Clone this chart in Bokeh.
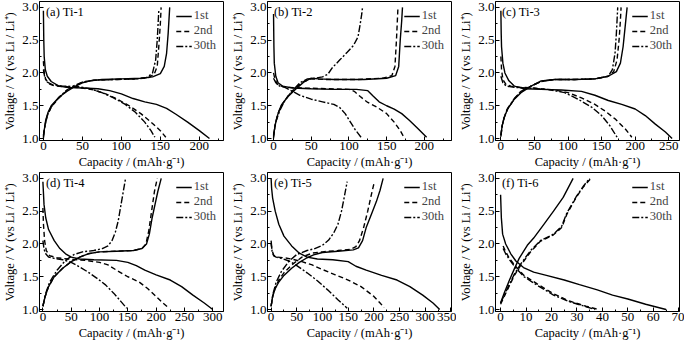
from bokeh.plotting import figure
from bokeh.layouts import gridplot
from bokeh.models import Legend, LegendItem, Label, SingleIntervalTicker, PrintfTickFormatter, Range1d
from bokeh.embed import file_html
from bokeh.resources import INLINE

# ---------------- data: (capacity mAh/g, voltage V) ----------------
# (a) Ti-1
a_1st_dis = [(0,2.95),(0.5,2.5),(1,2.25),(2.5,2.05),(5,1.95),(10,1.87),(20,1.8),(30,1.78),(50,1.77),(70,1.76),(85,1.73),(100,1.68),(115,1.61),(130,1.56),(145,1.52),(158,1.46),(170,1.37),(185,1.25),(200,1.12),(213,1.0)]
a_1st_chg = [(0,1.0),(1,1.12),(3,1.28),(6,1.4),(10,1.5),(20,1.63),(30,1.72),(40,1.79),(50,1.85),(60,1.88),(75,1.9),(100,1.91),(125,1.92),(140,1.94),(150,1.99),(155,2.1),(158,2.3),(160,2.6),(162,3.0)]
a_2nd_dis = [(0,2.18),(1,2.0),(3,1.9),(8,1.83),(15,1.8),(30,1.79),(50,1.77),(65,1.74),(80,1.68),(95,1.6),(110,1.5),(125,1.38),(140,1.23),(150,1.12),(157,1.02)]
a_2nd_chg = [(0,1.05),(2,1.2),(5,1.35),(10,1.48),(20,1.62),(30,1.73),(40,1.8),(50,1.86),(65,1.89),(90,1.9),(120,1.91),(135,1.93),(142,1.98),(146,2.1),(148,2.4),(150,2.75),(151,3.0)]
a_30_dis = [(0,2.05),(2,1.92),(5,1.86),(12,1.82),(25,1.8),(45,1.79),(60,1.76),(75,1.7),(90,1.62),(105,1.52),(118,1.4),(130,1.25),(138,1.12),(143,1.02)]
a_30_chg = [(0,1.03),(2,1.2),(5,1.35),(10,1.48),(20,1.63),(30,1.74),(40,1.81),(50,1.86),(65,1.89),(90,1.9),(120,1.91),(133,1.93),(140,2.0),(144,2.2),(146,2.5),(148,2.95)]
# (b) Ti-2
b_1st_dis = [(0,2.9),(0.5,2.4),(1,2.15),(3,1.95),(6,1.85),(12,1.8),(25,1.77),(50,1.76),(80,1.75),(110,1.75),(125,1.73),(132,1.65),(140,1.56),(150,1.5),(160,1.45),(170,1.38),(180,1.28),(190,1.17),(203,1.02)]
b_1st_chg = [(0,1.0),(1,1.12),(3,1.25),(6,1.38),(10,1.5),(15,1.58),(20,1.65),(30,1.76),(40,1.86),(50,1.92),(60,1.91),(80,1.9),(120,1.9),(150,1.92),(162,1.96),(166,2.1),(168,2.5),(170,2.8),(171,3.0)]
b_2nd_dis = [(0,2.0),(2,1.9),(5,1.83),(10,1.8),(20,1.78),(40,1.77),(70,1.76),(100,1.75),(107,1.72),(115,1.64),(125,1.55),(137,1.48),(150,1.38),(160,1.25),(168,1.12),(173,1.02)]
b_2nd_chg = [(0,1.03),(2,1.2),(5,1.35),(10,1.5),(20,1.66),(30,1.78),(40,1.87),(50,1.91),(70,1.9),(110,1.9),(145,1.92),(157,1.96),(161,2.1),(163,2.5),(165,3.0)]
b_30_dis = [(0,1.92),(3,1.85),(8,1.8),(15,1.78),(25,1.72),(35,1.66),(50,1.6),(65,1.56),(80,1.52),(88,1.47),(95,1.38),(102,1.25),(108,1.14),(116,1.02)]
b_30_chg = [(0,1.05),(3,1.25),(8,1.42),(15,1.58),(25,1.73),(35,1.85),(45,1.91),(55,1.92),(65,1.94),(72,1.98),(78,2.08),(88,2.2),(98,2.32),(106,2.42),(112,2.55),(115,2.75),(117,2.9),(118,3.0)]
# (c) Ti-3
c_1st_dis = [(0,2.95),(0.5,2.6),(1,2.4),(3,2.15),(6,2.0),(12,1.88),(20,1.8),(35,1.76),(60,1.75),(90,1.74),(120,1.72),(140,1.66),(160,1.58),(180,1.52),(200,1.45),(215,1.35),(230,1.22),(245,1.1),(255,1.0)]
c_1st_chg = [(0,1.05),(2,1.2),(5,1.32),(10,1.45),(20,1.6),(30,1.7),(45,1.8),(60,1.88),(80,1.9),(110,1.9),(140,1.91),(160,1.95),(172,2.02),(178,2.15),(182,2.4),(185,2.7),(188,3.0)]
c_2nd_dis = [(0,2.25),(1,2.05),(3,1.9),(8,1.82),(15,1.8),(30,1.78),(50,1.77),(80,1.74),(100,1.7),(120,1.62),(140,1.52),(155,1.42),(170,1.3),(185,1.15),(195,1.02)]
c_2nd_chg = [(0,1.05),(2,1.2),(5,1.32),(10,1.45),(20,1.6),(30,1.72),(45,1.8),(60,1.87),(80,1.9),(110,1.9),(140,1.91),(160,1.95),(168,2.02),(173,2.2),(176,2.5),(178,2.8),(179,3.0)]
c_30_dis = [(0,1.95),(3,1.85),(8,1.8),(20,1.78),(40,1.77),(70,1.75),(95,1.7),(115,1.6),(135,1.48),(150,1.35),(162,1.2),(173,1.02)]
c_30_chg = [(0,1.03),(2,1.2),(5,1.33),(10,1.46),(20,1.61),(30,1.72),(45,1.8),(60,1.87),(80,1.9),(110,1.9),(140,1.91),(160,1.95),(166,2.05),(170,2.3),(172,2.6),(174,3.0)]
# (d) Ti-4
d_1st_dis = [(0,2.95),(2,2.6),(5,2.4),(10,2.22),(20,2.05),(30,1.93),(40,1.85),(50,1.8),(65,1.77),(90,1.76),(130,1.75),(150,1.72),(165,1.67),(180,1.6),(200,1.53),(225,1.45),(245,1.35),(265,1.22),(285,1.1),(300,1.0)]
d_1st_chg = [(0,1.05),(4,1.2),(10,1.35),(20,1.5),(35,1.63),(50,1.73),(65,1.8),(80,1.85),(100,1.88),(130,1.89),(160,1.9),(175,1.93),(183,2.0),(188,2.15),(193,2.4),(198,2.6),(203,2.8),(209,3.0)]
d_2nd_dis = [(0,2.55),(1,2.3),(3,2.05),(6,1.9),(12,1.82),(25,1.79),(45,1.77),(75,1.75),(100,1.72),(115,1.68),(130,1.6),(150,1.5),(170,1.42),(185,1.32),(200,1.2),(212,1.1),(223,1.02)]
d_2nd_chg = [(0,1.05),(4,1.2),(10,1.35),(20,1.5),(35,1.63),(50,1.73),(65,1.8),(80,1.85),(100,1.88),(130,1.89),(160,1.9),(175,1.93),(182,2.0),(187,2.2),(192,2.5),(197,2.8),(202,3.0)]
d_30_dis = [(0,2.05),(2,1.92),(5,1.85),(10,1.8),(20,1.78),(35,1.76),(50,1.72),(65,1.65),(80,1.57),(95,1.48),(110,1.38),(125,1.25),(138,1.12),(148,1.02)]
d_30_chg = [(0,1.05),(5,1.25),(12,1.42),(25,1.6),(40,1.75),(55,1.84),(70,1.88),(90,1.9),(105,1.93),(115,1.97),(122,2.05),(128,2.18),(133,2.35),(138,2.6),(142,2.8),(146,3.0)]
# (e) Ti-5
e_1st_dis = [(0,3.0),(1,2.85),(3,2.7),(8,2.5),(15,2.3),(25,2.12),(40,1.97),(55,1.86),(70,1.8),(90,1.77),(120,1.76),(150,1.73),(165,1.66),(185,1.6),(215,1.52),(245,1.45),(270,1.35),(295,1.22),(315,1.1),(328,1.0)]
e_1st_chg = [(0,1.05),(3,1.2),(8,1.32),(15,1.42),(25,1.52),(40,1.63),(55,1.72),(70,1.79),(85,1.84),(100,1.87),(130,1.89),(160,1.91),(170,1.94),(178,2.05),(185,2.25),(195,2.45),(205,2.65),(212,2.82),(218,3.0)]
e_2nd_dis = [(0,2.0),(2,1.9),(5,1.83),(12,1.8),(25,1.79),(40,1.77),(60,1.73),(80,1.68),(100,1.61),(125,1.53),(150,1.45),(175,1.35),(200,1.2),(212,1.1),(220,1.03)]
e_2nd_chg = [(0,1.05),(3,1.2),(8,1.33),(15,1.45),(25,1.56),(40,1.68),(60,1.8),(80,1.86),(100,1.88),(130,1.9),(155,1.92),(165,1.96),(172,2.05),(180,2.25),(188,2.5),(195,2.75),(201,2.95)]
e_30_dis = [(0,2.05),(2,1.88),(5,1.82),(10,1.8),(20,1.78),(35,1.74),(50,1.67),(70,1.56),(90,1.44),(110,1.3),(130,1.15),(148,1.02)]
e_30_chg = [(0,1.05),(4,1.25),(10,1.42),(20,1.58),(35,1.74),(50,1.84),(70,1.9),(85,1.93),(100,1.98),(112,2.06),(122,2.17),(130,2.3),(137,2.5),(142,2.7),(148,2.95)]
# (f) Ti-6
f_1st_dis = [(0,2.75),(0.3,2.4),(0.8,2.15),(2,2.0),(4,1.85),(6,1.74),(9,1.64),(13,1.57),(18,1.52),(25,1.45),(31,1.38),(38,1.3),(44,1.22),(50,1.16),(57,1.08),(65,1.0)]
f_1st_chg = [(0,1.1),(1.5,1.26),(3.5,1.45),(5.4,1.62),(7.3,1.78),(10.5,1.98),(13,2.09),(17,2.3),(20.8,2.5),(24.6,2.71),(28.5,3.0)]
f_2nd_dis = [(1,1.97),(2,1.88),(3.5,1.78),(5.4,1.68),(9.2,1.52),(14.4,1.39),(20.8,1.24),(27,1.13),(33.5,1.05),(38.5,1.0)]
f_2nd_chg = [(0,1.08),(2.8,1.31),(5.4,1.52),(8,1.68),(11.8,1.88),(15.6,2.04),(20.8,2.14),(24,2.25),(26,2.45),(29.7,2.71),(32.5,2.87),(35.5,3.0)]
f_30_dis = [(1,1.93),(2,1.85),(3.5,1.76),(5.4,1.66),(9.2,1.5),(14.4,1.37),(20.8,1.22),(27,1.12),(33,1.05),(37,1.0)]
f_30_chg = [(0,1.1),(2.8,1.33),(5.4,1.54),(8,1.7),(11.8,1.9),(15.6,2.05),(20.8,2.15),(24,2.27),(26,2.47),(29.7,2.72),(32.5,2.88),(35,3.0)]

panel_titles = ["(a) Ti-1", "(b) Ti-2", "(c) Ti-3", "(d) Ti-4", "(e) Ti-5", "(f) Ti-6"]
x_ranges = [(-5, 231), (-8, 236), (-8, 266), (-6, 319), (-7, 351), (-2, 70.3)]
x_intervals = [50, 50, 50, 50, 50, 10]
cycle_labels = ["1st", "2nd", "30th"]
panel_curves = [
    [(a_1st_dis, a_1st_chg), (a_2nd_dis, a_2nd_chg), (a_30_dis, a_30_chg)],
    [(b_1st_dis, b_1st_chg), (b_2nd_dis, b_2nd_chg), (b_30_dis, b_30_chg)],
    [(c_1st_dis, c_1st_chg), (c_2nd_dis, c_2nd_chg), (c_30_dis, c_30_chg)],
    [(d_1st_dis, d_1st_chg), (d_2nd_dis, d_2nd_chg), (d_30_dis, d_30_chg)],
    [(e_1st_dis, e_1st_chg), (e_2nd_dis, e_2nd_chg), (e_30_dis, e_30_chg)],
    [(f_1st_dis, f_1st_chg), (f_2nd_dis, f_2nd_chg), (f_30_dis, f_30_chg)],
]

SERIF = "Liberation Serif"
dashes = ["solid", "5 3", "7 2 2 2"]

figs = []
for i in range(6):
    x0, x1 = x_ranges[i]
    p = figure(width=228, height=171, x_range=Range1d(x0, x1), y_range=Range1d(0.97, 3.09),
               output_backend="svg", toolbar_location=None,
               min_border_left=38, min_border_right=5, min_border_top=1, min_border_bottom=30)
    p.grid.visible = False
    p.outline_line_color = "black"
    p.outline_line_width = 1
    p.background_fill_color = "white"
    p.xaxis.ticker = SingleIntervalTicker(interval=x_intervals[i], num_minor_ticks=2)
    p.yaxis.ticker = SingleIntervalTicker(interval=0.5, num_minor_ticks=2)
    p.yaxis.formatter = PrintfTickFormatter(format="%.1f")
    p.xaxis.axis_label = "Capacity / (mAh·g⁻¹)"
    p.yaxis.axis_label = "Voltage / V (vs Li / Li⁺)"
    for ax in (p.xaxis[0], p.yaxis[0]):
        ax.axis_line_color = "black"
        ax.major_tick_in = 4
        ax.major_tick_out = 0
        ax.minor_tick_in = 2
        ax.minor_tick_out = 0
        ax.major_tick_line_color = "black"
        ax.minor_tick_line_color = "black"
        ax.major_label_text_font = SERIF
        ax.major_label_text_font_size = "13px"
        ax.major_label_text_color = "black"
        ax.axis_label_text_font = SERIF
        ax.axis_label_text_font_size = "12.5px"
        ax.axis_label_text_font_style = "normal"
        ax.axis_label_text_color = "black"
        ax.major_label_standoff = 1
        ax.axis_label_standoff = 2

    items = []
    for k, (dis, chg) in enumerate(panel_curves[i]):
        r1 = p.line([q for q, v in dis], [v for q, v in dis], line_color="black", line_width=1.4,
                    line_dash=dashes[k])
        p.line([q for q, v in chg], [v for q, v in chg], line_color="black", line_width=1.4,
               line_dash=dashes[k])
        items.append(LegendItem(label=cycle_labels[k], renderers=[r1]))

    legend = Legend(items=items, location="top_right", border_line_alpha=0, background_fill_alpha=0,
                    label_text_font=SERIF, label_text_font_size="12.5px", glyph_width=16, glyph_height=10,
                    label_height=10, spacing=-4, padding=2, margin=5, label_standoff=2)
    p.add_layout(legend)

    p.add_layout(Label(x=x0 + (x1 - x0) * 0.035, y=2.93, text=panel_titles[i], text_font=SERIF,
                       text_font_size="12.5px", text_baseline="middle", text_color="black"))
    figs.append(p)

grid = gridplot([figs[0:3], figs[3:6]], toolbar_location=None)

open("out.html", "w").write(file_html(grid, INLINE))
